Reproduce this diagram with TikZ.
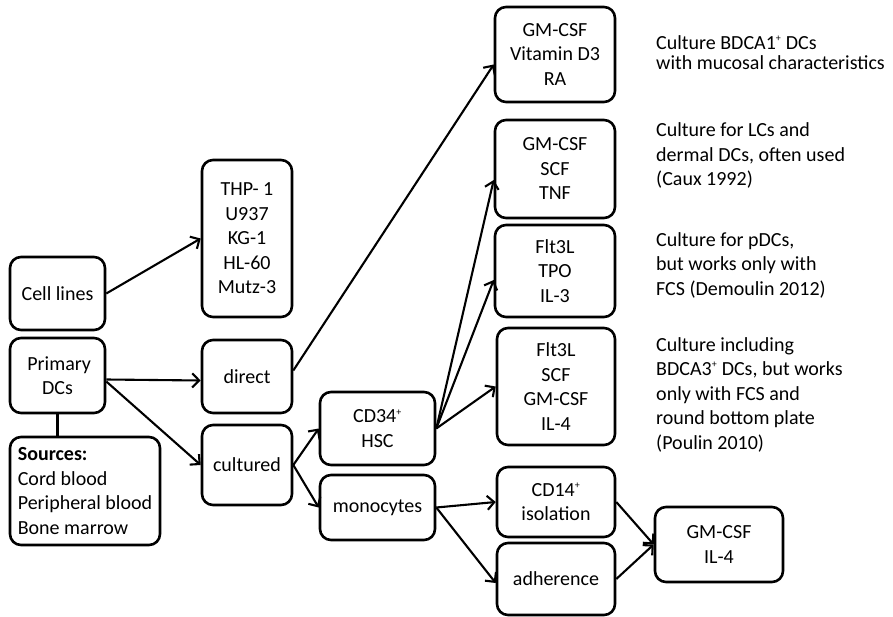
\documentclass[tikz,border=0pt]{standalone}
\usepackage{fontspec}
\setmainfont{Carlito}
\usetikzlibrary{arrows.meta}
\newcommand{\plussup}{\textsuperscript{\fontsize{10}{10}\selectfont +}}
\tikzset{
  bx/.style={draw, line width=2.6pt, rounded corners=11pt, align=center, inner sep=2pt,
    font=\fontsize{20}{24.5}\selectfont},
  note/.style={anchor=base west, align=left, inner sep=0pt, font=\fontsize{20}{24.5}\selectfont},
  arr/.style={line width=2.1pt, -{Straight Barb[length=7pt,width=14pt,line width=2.1pt]}},
  ln/.style={line width=2.1pt}
}
\begin{document}
\begin{tikzpicture}[x=1pt,y=-1pt]
\useasboundingbox (0,0) rectangle (893,617);
% left column
\node[bx, minimum width=95pt, minimum height=73pt] (cell) at (57.5,293.5) {Cell lines};
\node[bx, minimum width=95pt, minimum height=75pt] (prim) at (57.5,375.5) {\,Primary\\DCs};
\node[bx, minimum width=150pt, minimum height=108pt, align=left] (src) at (85,491)
  {\textbf{Sources:}\\Cord blood\\Peripheral blood\\Bone marrow};
% second column
\node[bx, minimum width=90pt, minimum height=157pt] (thp) at (247,238.5) {THP- 1\\U937\\KG-1\\HL-60\\Mutz-3};
\node[bx, minimum width=90pt, minimum height=73pt] (direct) at (247,376.5) {direct};
\node[bx, minimum width=90pt, minimum height=80pt] (cult) at (247,465) {cultured};
% third column
\node[bx, minimum width=115pt, minimum height=73pt] (cd34) at (377.5,428.5) {CD34\plussup\\HSC};
\node[bx, minimum width=115pt, minimum height=65pt] (mono) at (377.5,507.5) {monocytes};
% fourth column
\node[bx, minimum width=120pt, minimum height=95pt] (vit) at (555,54.5) {GM-CSF\\Vitamin D3\\RA};
\node[bx, minimum width=120pt, minimum height=98pt] (tnf) at (555,169) {GM-CSF\\SCF\\TNF};
\node[bx, minimum width=120pt, minimum height=92pt] (tpo) at (555,271) {Flt3L\\TPO\\IL-3};
\node[bx, minimum width=118pt, minimum height=117pt] (flt) at (556,386.5) {Flt3L\\SCF\\GM-CSF\\IL-4};
\node[bx, minimum width=118pt, minimum height=70pt] (cd14) at (556,502) {CD14\plussup\\isolation};
\node[bx, minimum width=118pt, minimum height=72pt] (adh) at (556,579) {adherence};
\node[bx, minimum width=128pt, minimum height=75pt] (fin) at (719,544.5) {GM-CSF\\IL-4};
% notes (anchored at the baseline of their last line)
\node[note, font=\fontsize{20}{20.5}\selectfont] (n1) at (656,70) {Culture BDCA1\plussup{} DCs\\with mucosal characteristics};
\node[note] (n2) at (656,186) {Culture for LCs and\\dermal DCs, often used\\(Caux 1992)};
\node[note] (n3) at (656,295) {Culture for pDCs,\\but works only with\\FCS (Demoulin 2012)};
\node[note] (n4) at (656,449) {Culture including\\BDCA3\plussup{} DCs, but works\\only with FCS and\\round bottom plate\\(Poulin 2010)};
% connectors
\draw[arr] (cell.east) -- (thp.west);
\draw[arr] ([yshift=-4pt]prim.east) -- ([yshift=-4pt]direct.west);
\draw[arr] ([yshift=-6pt]prim.east) -- (cult.west);
\draw[ln] (prim.south) -- (prim.south |- src.north);
\draw[arr] ([yshift=6pt]direct.east) -- ([yshift=-10pt]vit.west);
\draw[arr] (cult.east) -- (cd34.west);
\draw[arr] (cult.east) -- (mono.west);
\draw[arr] (cd34.east) -- ([yshift=-11pt]tnf.west);
\draw[arr] (cd34.east) -- ([yshift=-9pt]tpo.west);
\draw[arr] (cd34.east) -- (flt.west);
\draw[arr] (mono.east) -- (cd14.west);
\draw[arr] (mono.east) -- ([yshift=-4pt]adh.west);
\draw[arr] (cd14.east) -- (fin.west);
\draw[arr] (adh.east) -- (fin.west);
\end{tikzpicture}
\end{document}
